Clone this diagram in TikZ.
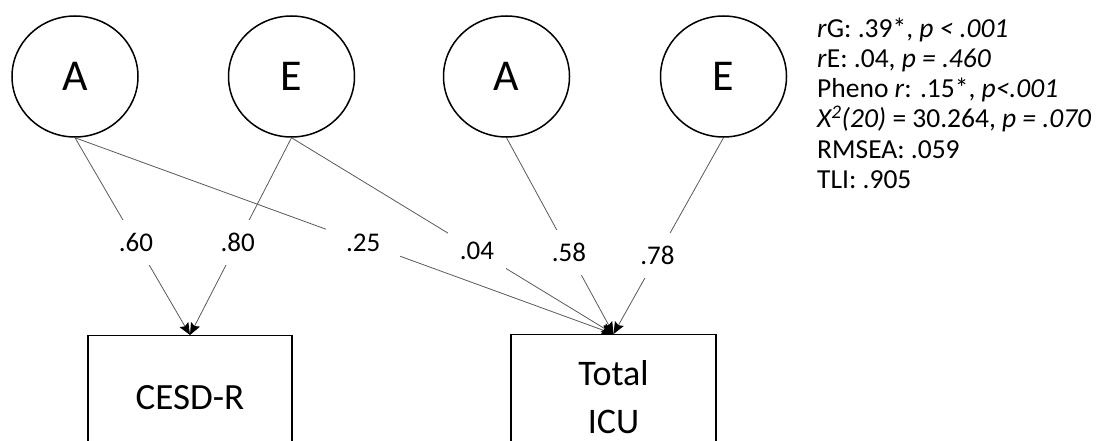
\documentclass[tikz,border=0pt]{standalone}
\usepackage{fontspec}
\setmainfont{Carlito}
\usetikzlibrary{shapes.geometric,arrows.meta}
\begin{document}
\begin{tikzpicture}[x=1pt,y=-1pt,
  latent/.style={draw, line width=1.5pt, ellipse, minimum width=126pt, minimum height=121pt, inner sep=0pt, font=\fontsize{44}{50}\selectfont},
  obs/.style={draw, line width=1.3pt, rectangle, minimum width=204pt, minimum height=124pt, align=center, anchor=north},
  sempath/.style={draw=black!65, line width=0.8pt, -{Stealth[length=12pt,width=10pt,inset=2pt,color=black]}},
  coef/.style={fill=white, inner xsep=20pt, inner ysep=13pt, font=\fontsize{27}{30}\selectfont},
  stat/.style={anchor=base west, inner sep=0pt, font=\fontsize{27.5}{30}\selectfont}]
\useasboundingbox (0,0) rectangle (1099,441);
\clip (0,0) rectangle (1099,441);
% latent factors
\node[latent] (a1) at (75,76.5) {A};
\node[latent] (e1) at (291.5,76.5) {E};
\node[latent] (a2) at (506.5,76.5) {A};
\node[latent] (e2) at (723.5,76.5) {E};
% observed variables
\node[obs, font=\fontsize{37}{45}\selectfont] (cesd) at (190,335) {CESD-R};
\node[obs, minimum width=205pt, font=\fontsize{36}{45}\selectfont] (icu) at (613.5,334) {Total\\[3pt]ICU};
% paths
\draw[sempath] (a1.south) -- node[coef, pos=.53] {.60} (cesd.north);
\draw[sempath] (e1.south) -- node[coef, pos=.53] {.80} (cesd.north);
\draw[sempath] (a1.south) -- node[coef, pos=.535] {.25} (icu.north);
\draw[sempath] (e1.south) -- node[coef, pos=.576, inner xsep=12pt] {.04} (icu.north);
\draw[sempath] (a2.south) -- node[coef, pos=.584] {.58} (icu.north);
\draw[sempath] (e2.south) -- node[coef, pos=.60] {.78} (icu.north);
% fit statistics
\node[stat] (s1) at (817,38) {\textit{r}G: .39*, \textit{p < .001}};
\node[stat] (s2) at (817,68) {\textit{r}E: .04, \textit{p = .460}};
\node[stat] (s3) at (817,98) {Pheno \textit{r}: .15*, \textit{p<.001}};
\node[stat] (s4) at (817,128) {\textit{X\textsuperscript{2}(20)} = 30.264, \textit{p = .070}};
\node[stat] (s5) at (817,158) {RMSEA: .059};
\node[stat] (s6) at (817,188) {TLI: .905};
\end{tikzpicture}
\end{document}
